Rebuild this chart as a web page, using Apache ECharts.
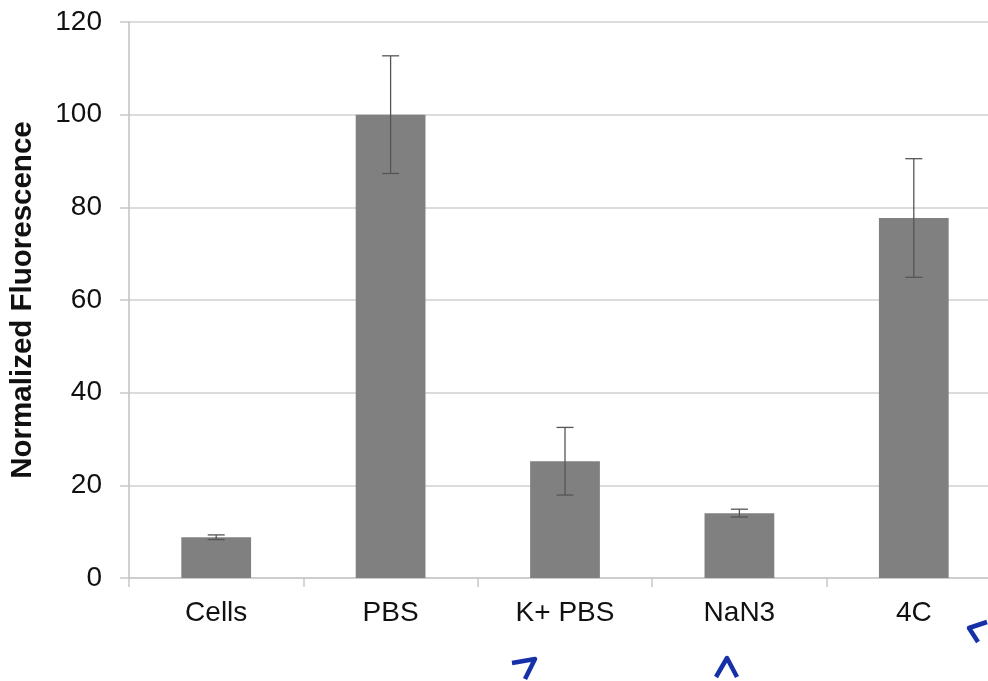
<!DOCTYPE html>
<html><head><meta charset="utf-8">
<script src="https://cdn.jsdelivr.net/npm/echarts@6/dist/echarts.min.js"></script>
<style>html,body{margin:0;padding:0;background:#fff;overflow:hidden}#c{width:988px;height:681px}</style>
</head><body><div id="c"></div>
<script>
const categories = ['Cells', 'PBS', 'K+ PBS', 'NaN3', '4C'];
const values = [8.8, 100, 25.2, 14.0, 77.7];
const errors = [0.5, 12.7, 7.3, 0.85, 12.8];
const yTicks = [0, 20, 40, 60, 80, 100, 120];

const chart = echarts.init(document.getElementById('c'));
const errData = values.map((v, i) => [i, v - errors[i], v + errors[i]]);
chart.setOption({
  animation: false,
  grid: { left: 129, top: 22, width: 872, height: 556, outerBoundsMode: 'none', containLabel: false },
  xAxis: {
    type: 'category', data: categories,
    axisLine: { lineStyle: { color: '#c8c8c8', width: 1.5 } },
    axisTick: { show: true, length: 9, lineStyle: { color: '#c8c8c8', width: 1.5 } },
    axisLabel: { color: '#111', fontSize: 28, fontFamily: 'Liberation Sans, Arial', margin: 21 }
  },
  yAxis: {
    type: 'value', min: 0, max: 120, interval: 20,
    name: 'Normalized Fluorescence', nameLocation: 'middle', nameGap: 91,
    nameTextStyle: { fontSize: 29.5, fontWeight: 'bold', color: '#111', fontFamily: 'Liberation Sans, Arial' },
    axisLine: { show: true, lineStyle: { color: '#c0c0c0', width: 1.5 } },
    axisTick: { show: true, length: 9, lineStyle: { color: '#c8c8c8', width: 1.5 } },
    splitLine: { lineStyle: { color: '#d0d0d0', width: 1.5 } },
    axisLabel: { color: '#111', fontSize: 28, fontFamily: 'Liberation Sans, Arial', margin: 27,
      formatter: v => yTicks.includes(v) ? String(v) : '' }
  },
  series: [
    { type: 'bar', data: values, barWidth: '40%', itemStyle: { color: '#808080' } },
    { type: 'custom', data: errData, z: 10,
      renderItem: function (params, api) {
        const x = api.value(0);
        const lo = api.coord([x, api.value(1)]);
        const hi = api.coord([x, api.value(2)]);
        const hw = 8.5;
        const style = { stroke: '#555', lineWidth: 1.3 };
        return { type: 'group', children: [
          { type: 'line', shape: { x1: lo[0], y1: lo[1], x2: hi[0], y2: hi[1] }, style },
          { type: 'line', shape: { x1: lo[0] - hw, y1: lo[1], x2: lo[0] + hw, y2: lo[1] }, style },
          { type: 'line', shape: { x1: hi[0] - hw, y1: hi[1], x2: hi[0] + hw, y2: hi[1] }, style }
        ]};
      }
    }
  ],
  graphic: [
    { type: 'polyline', shape: { points: [[512, 663], [535, 659], [525, 679]] }, style: { stroke: '#1630a8', lineWidth: 4.5, fill: null, lineJoin: 'round' } },
    { type: 'polyline', shape: { points: [[716, 677], [727, 658], [737, 677]] }, style: { stroke: '#1630a8', lineWidth: 4.5, fill: null, lineJoin: 'round' } },
    { type: 'polyline', shape: { points: [[987, 622], [969, 628], [978, 642]] }, style: { stroke: '#1630a8', lineWidth: 4.5, fill: null, lineJoin: 'round' } }
  ]
});
</script></body></html>
